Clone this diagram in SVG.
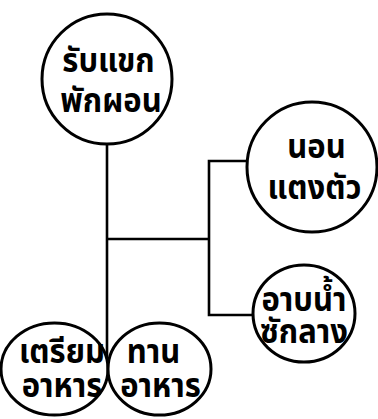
<svg xmlns="http://www.w3.org/2000/svg" width="378" height="419" viewBox="0 0 378 419">
<style>
.n{fill:#fff;stroke:#000;stroke-width:3}
.c{fill:none;stroke:#000;stroke-width:2.6}
.t{font-family:"Noto Sans Thai","Noto Sans","DejaVu Sans",sans-serif;font-weight:bold;text-anchor:middle;fill:#000;font-size:31px}
</style>
<rect width="378" height="419" fill="#fff"/>
<g id="connectors">
<path class="c" d="M107 143V360"/>
<path class="c" d="M107 239H209"/>
<path class="c" d="M248 161H209V315H254"/>
</g>
<g id="node-top">
<circle class="n" cx="107" cy="79" r="65"/>
<text class="t" transform="matrix(1 0 0 1.1 0 -9.2)"><tspan x="108.5" y="73.82">รับแขก</tspan><tspan x="111" y="110.18">พักผอน</tspan></text>
</g>
<g id="node-dress">
<circle class="n" cx="312" cy="167" r="65"/>
<text class="t" transform="matrix(1 0 0 1.1 0 -17.85)"><tspan x="316.5" y="159.86">นอน</tspan><tspan x="314.5" y="197.14">แตงตัว</tspan></text>
</g>
<g id="node-bath">
<ellipse class="n" cx="304" cy="313.5" rx="51" ry="48.5"/>
<text class="t" transform="matrix(1 0 0 1.1 0 -32.7)"><tspan x="304" y="312.45">อาบน้ำ</tspan><tspan x="304" y="341.55">ซักลาง</tspan></text>
</g>
<g id="node-prepare">
<ellipse class="n" cx="54.5" cy="369" rx="53.5" ry="46"/>
<text class="t" transform="matrix(1 0 0 1.1 0 -38)"><tspan x="62" y="364.55">เตรียม</tspan><tspan x="62" y="395.45">อาหาร</tspan></text>
</g>
<g id="node-eat">
<ellipse class="n" cx="159.5" cy="369" rx="51.5" ry="46"/>
<text class="t" transform="matrix(1 0 0 1.1 0 -38)"><tspan x="153.5" y="364.55">ทาน</tspan><tspan x="160.5" y="395.45">อาหาร</tspan></text>
</g>
</svg>
